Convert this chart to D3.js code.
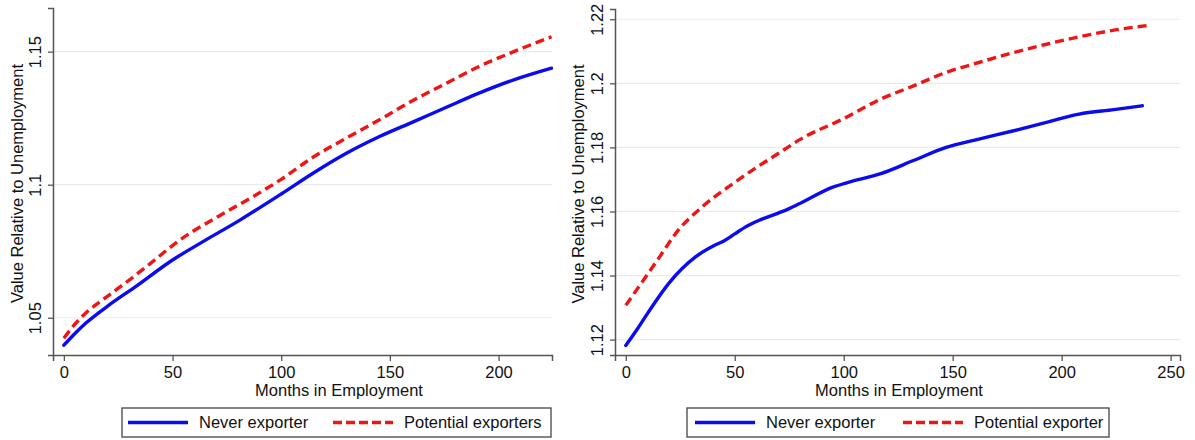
<!DOCTYPE html>
<html>
<head>
<meta charset="utf-8">
<script src="https://cdn.jsdelivr.net/npm/d3@7"></script>
<style>
  html, body { margin: 0; padding: 0; background: #fff; }
  svg { display: block; font-family: "Liberation Sans", Arial, sans-serif; }
</style>
</head>
<body>
<svg id="chart" width="1195" height="440"></svg>
<script>
// ---------- Data ----------
// Left panel
const leftNeverMonths = [0, 5, 10, 20, 33, 50, 64, 81, 100, 115, 130, 145, 161, 176, 191, 207, 224.4];
const leftNeverValues = [1.0397, 1.0440, 1.0479, 1.0543, 1.0617, 1.0717, 1.0786, 1.0867, 1.0965, 1.1045, 1.1118, 1.1180, 1.1237, 1.1291, 1.1344, 1.1394, 1.1438];
const leftPotMonths = [0, 5, 10, 20, 33, 41, 53, 72, 87, 100, 115, 130, 145, 161, 176, 191, 207, 224.4];
const leftPotValues = [1.0423, 1.0475, 1.0517, 1.0580, 1.0660, 1.0712, 1.0790, 1.0885, 1.0955, 1.1020, 1.1105, 1.1175, 1.1243, 1.1318, 1.1381, 1.1444, 1.1500, 1.1556];

// Right panel
const rightNeverMonths = [0, 5, 10, 20, 32, 41, 45, 50, 55, 61, 70, 75, 81, 95, 102, 117, 132, 147, 162, 178, 193, 208, 224, 237];
const rightNeverValues = [1.1182, 1.1230, 1.1282, 1.1378, 1.1458, 1.1495, 1.1508, 1.1530, 1.1552, 1.1572, 1.1595, 1.1609, 1.1629, 1.1676, 1.1691, 1.1718, 1.1759, 1.1800, 1.1826, 1.1852, 1.1878, 1.1904, 1.1918, 1.1930];
const rightPotMonths = [0, 7, 15, 24, 35, 49, 59, 72, 79, 100, 117, 132, 147, 162, 178, 193, 208, 224, 240];
const rightPotValues = [1.1307, 1.1375, 1.1453, 1.1541, 1.1614, 1.1686, 1.1733, 1.1790, 1.1821, 1.1890, 1.1951, 1.1992, 1.2034, 1.2065, 1.2096, 1.2122, 1.2145, 1.2166, 1.2181];

// Tick labels
const leftXTicks = [0, 50, 100, 150, 200];
const leftYTicks = [1.05, 1.1, 1.15];
const leftYTickLabels = ["1.05", "1.1", "1.15"];
const rightXTicks = [0, 50, 100, 150, 200, 250];
const rightYTicks = [1.12, 1.14, 1.16, 1.18, 1.2, 1.22];
const rightYTickLabels = ["1.12", "1.14", "1.16", "1.18", "1.2", "1.22"];

// Text
const xTitle = "Months in Employment";
const yTitle = "Value Relative to Unemployment";
const leftLegend = ["Never exporter", "Potential exporters"];
const rightLegend = ["Never exporter", "Potential exporter"];

// ---------- Drawing ----------
const svg = d3.select("#chart");
const BLUE = "#0b0bf0";
const RED = "#f01414";
const AXIS = "#555";
const GRID = "#ebebeb";
const FONT = 16.5;

function zip(xs, ys) { return xs.map((m, i) => ({ m: m, v: ys[i] })); }

function panel(cfg) {
  const g = svg.append("g");
  const x = d3.scaleLinear().domain(cfg.xDomain).range([cfg.left, cfg.right]);
  const y = d3.scaleLinear().domain(cfg.yDomain).range([cfg.bottom, cfg.top]);

  // gridlines
  g.selectAll("line.grid").data(cfg.yTicks).join("line")
    .attr("x1", cfg.left).attr("x2", cfg.right)
    .attr("y1", d => y(d)).attr("y2", d => y(d))
    .attr("stroke", GRID).attr("stroke-width", 1.2);

  // x axis
  const xAxis = d3.axisBottom(x).tickValues(cfg.xTicks).tickSize(6).tickPadding(5).tickFormat(d3.format("d"));
  const gx = g.append("g").attr("transform", `translate(0,${cfg.bottom})`).call(xAxis);
  gx.select(".domain").attr("stroke", AXIS).attr("stroke-width", 1.5);
  gx.selectAll(".tick line").attr("stroke", AXIS).attr("stroke-width", 1.3);
  gx.selectAll(".tick text").attr("font-size", FONT).attr("fill", "#111")
    .attr("font-family", "Liberation Sans, Arial, sans-serif");

  // y axis
  const yAxis = d3.axisLeft(y).tickValues(cfg.yTicks).tickSize(5).tickFormat((d, i) => cfg.yLabels[i]);
  const gy = g.append("g").attr("transform", `translate(${cfg.left},0)`).call(yAxis);
  gy.select(".domain").attr("stroke", AXIS).attr("stroke-width", 1.5);
  gy.selectAll(".tick line").attr("stroke", AXIS).attr("stroke-width", 1.3);
  gy.selectAll(".tick text")
    .attr("font-size", FONT).attr("fill", "#111")
    .attr("font-family", "Liberation Sans, Arial, sans-serif")
    .attr("x", null).attr("dy", null)
    .attr("text-anchor", "middle")
    .attr("transform", `translate(${cfg.yLabelX - cfg.left},0) rotate(-90)`)
    .attr("dy", "0.35em");

  // axis titles
  g.append("text").attr("x", cfg.xTitleX)
    .attr("y", cfg.xTitleY).attr("text-anchor", "middle")
    .attr("font-size", FONT).attr("fill", "#111").text(xTitle);
  g.append("text")
    .attr("transform", `translate(${cfg.yTitleX},${(cfg.top + cfg.bottom) / 2 + 2}) rotate(-90)`)
    .attr("text-anchor", "middle").attr("dy", "0.35em")
    .attr("font-size", FONT).attr("fill", "#111").text(yTitle);

  // lines
  const clipId = "clip" + cfg.id;
  g.append("clipPath").attr("id", clipId).append("rect")
    .attr("x", cfg.left).attr("y", cfg.top - 4).attr("width", cfg.right - cfg.left + 1).attr("height", cfg.bottom - cfg.top + 4);
  const line = d3.line().x(d => x(d.m)).y(d => y(d.v)).curve(d3.curveMonotoneX);
  const lg = g.append("g").attr("clip-path", `url(#${clipId})`);
  lg.append("path").datum(zip(cfg.potM, cfg.potV)).attr("d", line)
    .attr("fill", "none").attr("stroke", RED).attr("stroke-width", 3.4)
    .attr("stroke-dasharray", "9,5");
  lg.append("path").datum(zip(cfg.nevM, cfg.nevV)).attr("d", line)
    .attr("fill", "none").attr("stroke", BLUE).attr("stroke-width", 3.4)
    .attr("stroke-linecap", "round");

  // legend
  const L = cfg.legend;
  const lgd = g.append("g");
  lgd.append("rect").attr("x", L.x).attr("y", L.y).attr("width", L.w).attr("height", L.h)
    .attr("fill", "#fff").attr("stroke", "#444").attr("stroke-width", 1.3);
  const cy = L.y + L.h / 2;
  lgd.append("line").attr("x1", L.s1).attr("x2", L.s1 + 60).attr("y1", cy).attr("y2", cy)
    .attr("stroke", BLUE).attr("stroke-width", 3.4);
  lgd.append("text").attr("x", L.s1 + 71).attr("y", cy).attr("dy", "0.35em")
    .attr("font-size", FONT).attr("fill", "#111").text(cfg.legendText[0]);
  lgd.append("line").attr("x1", L.s2).attr("x2", L.s2 + 60).attr("y1", cy).attr("y2", cy)
    .attr("stroke", RED).attr("stroke-width", 3.4).attr("stroke-dasharray", "9,4");
  lgd.append("text").attr("x", L.s2 + 71).attr("y", cy).attr("dy", "0.35em")
    .attr("font-size", FONT).attr("fill", "#111").text(cfg.legendText[1]);
}

panel({
  id: "L", left: 53, right: 552, top: 8, bottom: 355,
  xDomain: [-5, 224.6], yDomain: [1.0360, 1.1664],
  xTicks: leftXTicks, yTicks: leftYTicks, yLabels: leftYTickLabels,
  yLabelX: 35, yTitleX: 17, xTitleX: 339, xTitleY: 396,
  nevM: leftNeverMonths, nevV: leftNeverValues, potM: leftPotMonths, potV: leftPotValues,
  legend: { x: 122, y: 408, w: 429, h: 29, s1: 128, s2: 333 },
  legendText: leftLegend
});

panel({
  id: "R", left: 615, right: 1180, top: 9, bottom: 355,
  xDomain: [-4.95, 254.3], yDomain: [1.1152, 1.2232],
  xTicks: rightXTicks, yTicks: rightYTicks, yLabels: rightYTickLabels,
  yLabelX: 597, yTitleX: 578, xTitleX: 899, xTitleY: 396,
  nevM: rightNeverMonths, nevV: rightNeverValues, potM: rightPotMonths, potV: rightPotValues,
  legend: { x: 687, y: 408, w: 422, h: 29, s1: 695, s2: 903 },
  legendText: rightLegend
});
</script>
</body>
</html>
